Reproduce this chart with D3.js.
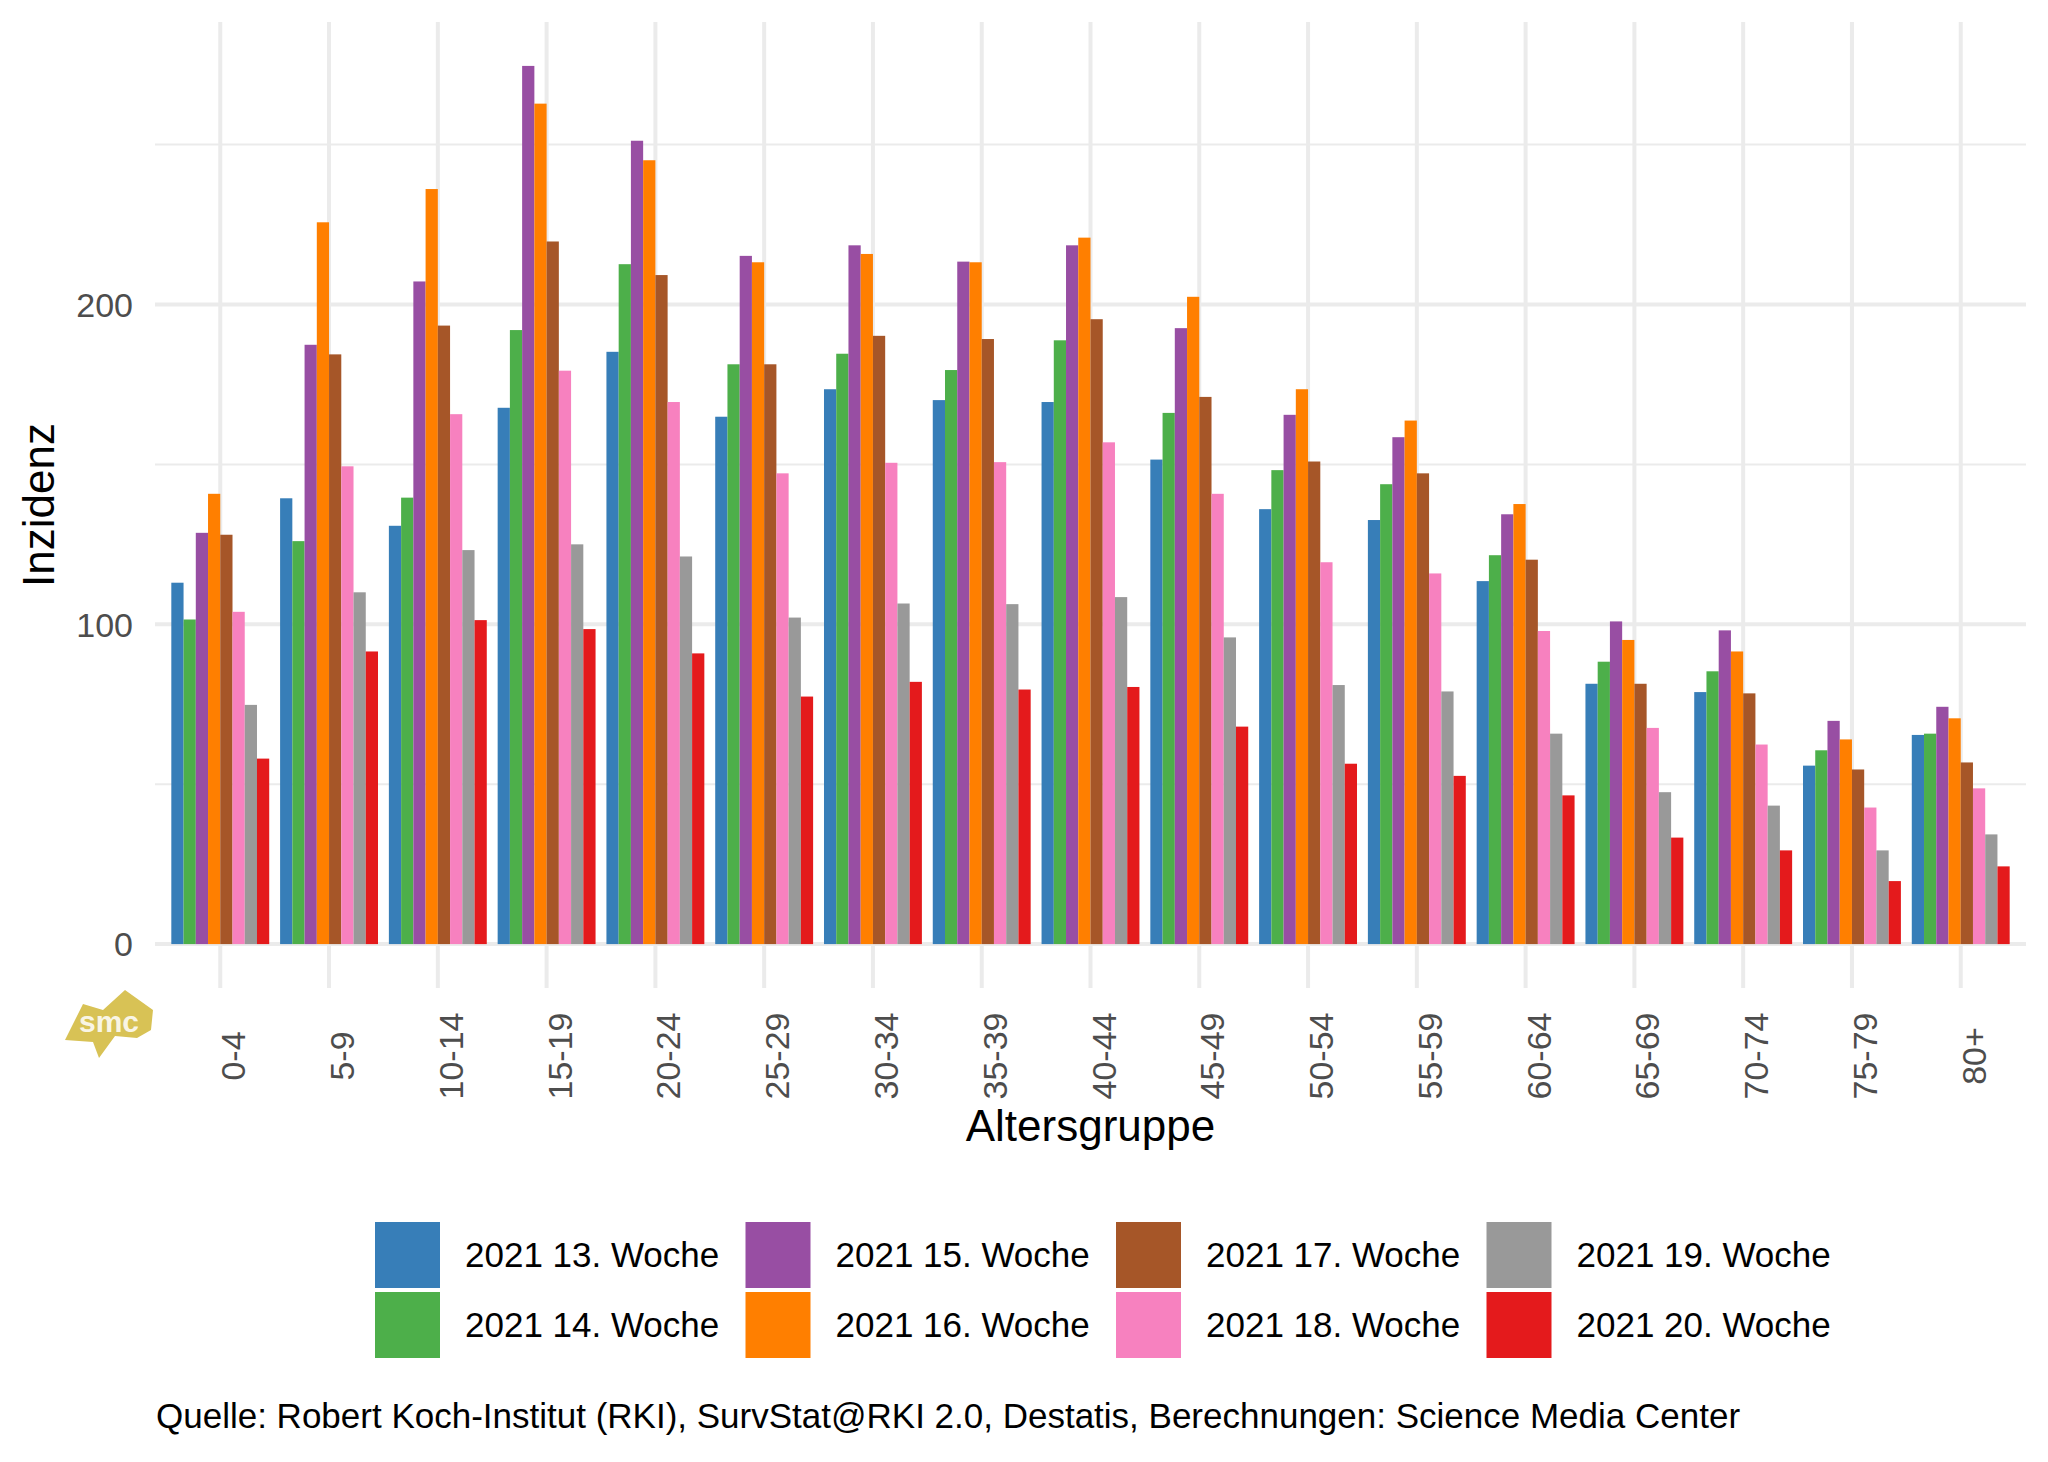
<!DOCTYPE html>
<html>
<head>
<meta charset="utf-8">
<script src="https://cdn.jsdelivr.net/npm/d3@7"></script>
<style>
  body { margin: 0; background: #fff; }
  svg { display: block; font-family: "Liberation Sans", Arial, Helvetica, sans-serif; }
</style>
</head>
<body>
<div id="chart"></div>
<script>
// age groups on the x axis
var ages = ["0-4", "5-9", "10-14", "15-19", "20-24", "25-29", "30-34", "35-39", "40-44",
  "45-49", "50-54", "55-59", "60-64", "65-69", "70-74", "75-79", "80+"];

var weeks = ["2021 13. Woche", "2021 14. Woche", "2021 15. Woche", "2021 16. Woche",
  "2021 17. Woche", "2021 18. Woche", "2021 19. Woche", "2021 20. Woche"];

var colors = ["#377EB8", "#4DAF4A", "#984EA3", "#FF7F00", "#A65628", "#F781BF", "#999999", "#E41A1C"];

// incidence per week, one value per age group
var w13 = [113, 139.4, 130.8, 167.7, 185.2, 164.9, 173.5, 170.1, 169.5, 151.5, 136, 132.6, 113.5, 81.4, 78.8, 55.8, 65.4];
var w14 = [101.5, 126, 139.6, 192, 212.6, 181.3, 184.6, 179.5, 188.8, 166.1, 148.2, 143.8, 121.6, 88.3, 85.3, 60.6, 65.8];
var w15 = [128.6, 187.4, 207.2, 274.6, 251.2, 215.2, 218.5, 213.4, 218.5, 192.6, 165.5, 158.5, 134.4, 100.9, 98.1, 69.8, 74.2];
var w16 = [140.8, 225.7, 236.1, 262.8, 245.1, 213.2, 215.8, 213.2, 220.9, 202.4, 173.5, 163.7, 137.6, 95.1, 91.5, 64, 70.6];
var w17 = [128, 184.4, 193.4, 219.7, 209.2, 181.3, 190.2, 189.2, 195.4, 171.1, 150.9, 147.2, 120.2, 81.4, 78.4, 54.6, 56.8];
var w18 = [103.9, 149.4, 165.7, 179.3, 169.5, 147.2, 150.5, 150.7, 156.9, 140.8, 119.4, 115.9, 97.9, 67.6, 62.4, 42.7, 48.7];
var w19 = [74.8, 110, 123.2, 125, 121.2, 102.1, 106.5, 106.3, 108.5, 95.9, 81, 79, 65.8, 47.5, 43.3, 29.3, 34.3];
var w20 = [58, 91.5, 101.3, 98.5, 90.9, 77.4, 82, 79.6, 80.4, 68, 56.4, 52.6, 46.5, 33.3, 29.3, 19.7, 24.3];

var series = [w13, w14, w15, w16, w17, w18, w19, w20];

var yTicks = [0, 100, 200];
var yMinor = [50, 150, 250];

var caption = "Quelle: Robert Koch-Institut (RKI), SurvStat@RKI 2.0, Destatis, Berechnungen: Science Media Center";

var W = 2048, H = 1462;
var panel = {left: 155, right: 2026, top: 22, bottom: 988};

var svg = d3.select("#chart").append("svg")
  .attr("width", W)
  .attr("height", H);

var rows = [];
ages.forEach(function(a, i) {
  weeks.forEach(function(w, j) {
    rows.push({age: a, week: w, value: series[j][i], color: colors[j]});
  });
});

var ymax = d3.max(rows, d => d.value);

var x0 = d3.scaleBand()
  .domain(ages)
  .range([panel.left, panel.right])
  .paddingInner(0.1)
  .paddingOuter(0.15);

var x1 = d3.scaleBand()
  .domain(weeks)
  .range([0, x0.bandwidth()]);

var y = d3.scaleLinear()
  .domain([-0.05 * ymax, 1.05 * ymax])
  .range([panel.bottom, panel.top]);

// grid
var grid = svg.append("g");
grid.selectAll(".minor")
  .data(yMinor)
  .enter().append("line")
    .attr("x1", panel.left).attr("x2", panel.right)
    .attr("y1", d => y(d)).attr("y2", d => y(d))
    .attr("stroke", "#EBEBEB")
    .attr("stroke-width", 2);
grid.selectAll(".major")
  .data(yTicks)
  .enter().append("line")
    .attr("x1", panel.left).attr("x2", panel.right)
    .attr("y1", d => y(d)).attr("y2", d => y(d))
    .attr("stroke", "#EBEBEB")
    .attr("stroke-width", 4);
grid.selectAll(".vmajor")
  .data(ages)
  .enter().append("line")
    .attr("x1", d => x0(d) + x0.bandwidth() / 2)
    .attr("x2", d => x0(d) + x0.bandwidth() / 2)
    .attr("y1", panel.top).attr("y2", panel.bottom)
    .attr("stroke", "#EBEBEB")
    .attr("stroke-width", 4);

// bars
svg.append("g")
  .selectAll("rect")
  .data(rows)
  .enter()
  .append("rect")
    .attr("x", d => x0(d.age) + x1(d.week))
    .attr("width", x1.bandwidth())
    .attr("y", d => y(d.value))
    .attr("height", d => y(0) - y(d.value))
    .attr("fill", d => d.color);

// y axis labels
svg.append("g")
  .selectAll("text")
  .data(yTicks)
  .enter().append("text")
    .attr("x", 133)
    .attr("y", d => y(d))
    .attr("dy", "0.36em")
    .attr("text-anchor", "end")
    .attr("font-size", 34)
    .attr("fill", "#4D4D4D")
    .text(d => d);

// x axis labels (rotated)
svg.append("g")
  .selectAll("text")
  .data(ages)
  .enter().append("text")
    .attr("transform", d => "translate(" + (x0(d) + x0.bandwidth() / 2 + 25) + ",1056) rotate(-90)")
    .attr("text-anchor", "middle")
    .attr("font-size", 34)
    .attr("fill", "#4D4D4D")
    .text(d => d);

// axis titles
svg.append("text")
  .attr("x", (panel.left + panel.right) / 2)
  .attr("y", 1141)
  .attr("text-anchor", "middle")
  .attr("font-size", 44)
  .attr("fill", "#000")
  .text("Altersgruppe");

svg.append("text")
  .attr("transform", "translate(54," + ((panel.top + panel.bottom) / 2) + ") rotate(-90)")
  .attr("text-anchor", "middle")
  .attr("font-size", 44)
  .attr("fill", "#000")
  .text("Inzidenz");

// legend, 2 rows x 4 columns
var legend = svg.append("g");
var item = legend.selectAll("g")
  .data(weeks)
  .enter().append("g")
    .attr("transform", (d, i) => "translate(" + (375 + Math.floor(i / 2) * 370.5) + "," + (1222 + (i % 2) * 70) + ")");
item.append("rect")
  .attr("width", 65)
  .attr("height", 66)
  .attr("fill", (d, i) => colors[i]);
item.append("text")
  .attr("x", 90)
  .attr("y", 45)
  .attr("font-size", 35)
  .attr("fill", "#000")
  .text(d => d);

// caption
svg.append("text")
  .attr("x", 156)
  .attr("y", 1428)
  .attr("font-size", 35)
  .attr("fill", "#000")
  .text(caption);

// smc logo
var logo = svg.append("g").attr("transform", "translate(63,990)");
logo.append("path")
  .attr("d", "M2,50 L20,14 L40,20 L62,0 L90,20 L88,40 L74,48 L52,46 L36,68 L30,52 Z")
  .attr("fill", "#D8C255");
logo.append("text")
  .attr("x", 46)
  .attr("y", 42)
  .attr("text-anchor", "middle")
  .attr("font-size", 30)
  .attr("font-weight", "bold")
  .attr("fill", "#fff")
  .attr("opacity", 0.85)
  .text("smc");
</script>
</body>
</html>
